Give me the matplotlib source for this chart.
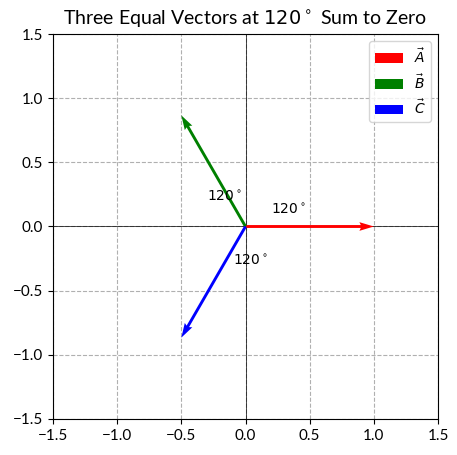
import numpy as np
import matplotlib.pyplot as plt

plt.rcParams['font.family'] = ['Lato', 'DejaVu Sans']

# vectors (tails at origin)
names = [r'$\vec{A}$', r'$\vec{B}$', r'$\vec{C}$']
vx = [1.0, -0.5, -0.5]
vy = [0.0, 0.866, -0.866]
colors = ['red', 'green', 'blue']
angle_text = r'$120^\circ$'

fig = plt.figure(figsize=(4.57, 4.55), dpi=100)
ax = fig.add_axes([53 / 457, 1 - 419 / 455, 385 / 457, 385 / 455])

for i in range(3):
    ax.quiver(0, 0, vx[i], vy[i], angles='xy', scale_units='xy', scale=1,
              color=colors[i], label=names[i], zorder=3)

ax.axhline(0, color='black', linewidth=0.5)
ax.axvline(0, color='black', linewidth=0.5)

# angle labels
ax.text(0.2, 0.1, angle_text, fontsize=10)
ax.text(-0.3, 0.2, angle_text, fontsize=10)
ax.text(-0.1, -0.3, angle_text, fontsize=10)

ax.set_xlim(-1.5, 1.5)
ax.set_ylim(-1.5, 1.5)
ax.set_aspect('equal')
ax.grid(True, linestyle='--')
ax.tick_params(labelsize=11)
ax.set_title(r'Three Equal Vectors at $120^\circ$ Sum to Zero', fontsize=14)
ax.legend(loc='upper right')

fig.savefig('out.png', dpi=100)
